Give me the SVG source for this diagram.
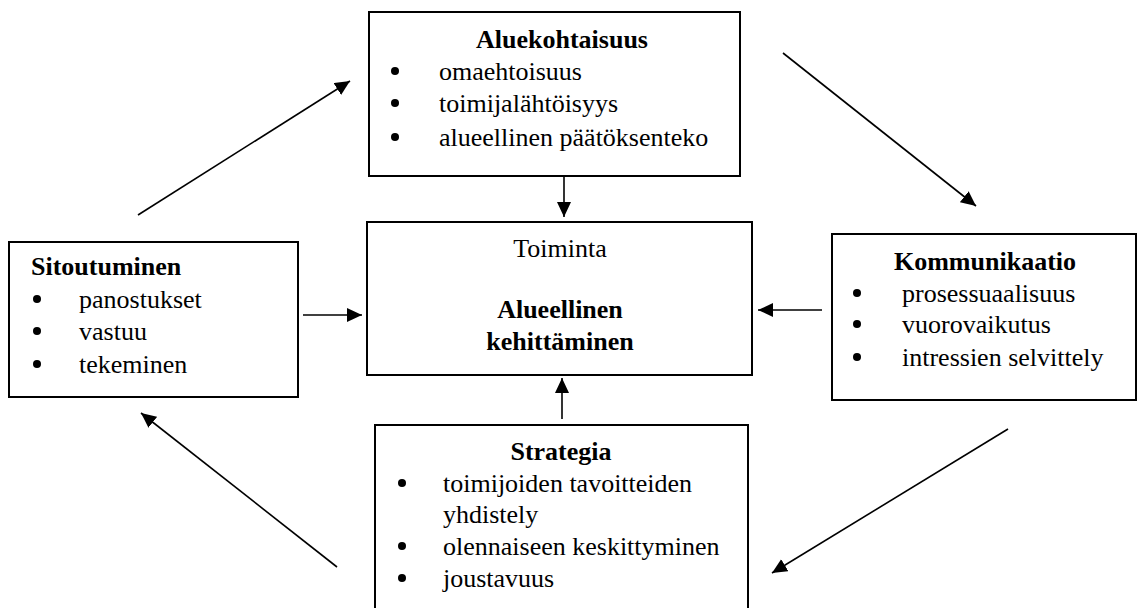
<svg xmlns="http://www.w3.org/2000/svg" width="1137" height="608" viewBox="0 0 1137 608">
<style>
.box{fill:#fff;stroke:#000;stroke-width:2}
.t{font-family:"Liberation Serif","Times New Roman",serif;font-size:26px;fill:#000}
.b{font-weight:bold}
.c{text-anchor:middle}
.conn line{stroke:#000;stroke-width:1.6;fill:none}
</style>
<defs>
<marker id="ah" markerUnits="userSpaceOnUse" markerWidth="16" markerHeight="15" refX="15" refY="7" orient="auto">
<path d="M0,0 L15,7 L0,14 z" fill="#000"/>
</marker>
</defs>
<rect width="1137" height="608" fill="#fff"/>
<g id="connectors" class="conn">
<line x1="564" y1="176" x2="564" y2="217" marker-end="url(#ah)"/>
<line x1="562" y1="419" x2="562" y2="378" marker-end="url(#ah)"/>
<line x1="303" y1="315" x2="362" y2="315" marker-end="url(#ah)"/>
<line x1="822" y1="310" x2="758" y2="310" marker-end="url(#ah)"/>
<line x1="138" y1="215" x2="350" y2="81" marker-end="url(#ah)"/>
<line x1="783" y1="53" x2="976" y2="206" marker-end="url(#ah)"/>
<line x1="1008" y1="429" x2="772" y2="573" marker-end="url(#ah)"/>
<line x1="337" y1="567" x2="141" y2="413" marker-end="url(#ah)"/>
</g>
<g id="aluekohtaisuus">
<rect class="box" x="369" y="12" width="371" height="164"/>
<text class="t b c" x="562" y="48">Aluekohtaisuus</text>
<circle cx="395" cy="71" r="4"/><text class="t" x="439" y="80">omaehtoisuus</text>
<circle cx="395" cy="103" r="4"/><text class="t" x="439" y="112">toimijalähtöisyys</text>
<circle cx="395" cy="137" r="4"/><text class="t" x="439" y="146">alueellinen päätöksenteko</text>
</g>
<g id="toiminta">
<rect class="box" x="367" y="222" width="385" height="153"/>
<text class="t c" x="560" y="257">Toiminta</text>
<text class="t b c" x="560" y="318">Alueellinen</text>
<text class="t b c" x="560" y="350">kehittäminen</text>
</g>
<g id="sitoutuminen">
<rect class="box" x="9" y="242" width="289" height="155"/>
<text class="t b" x="31" y="275">Sitoutuminen</text>
<circle cx="37" cy="299" r="4"/><text class="t" x="79" y="308">panostukset</text>
<circle cx="37" cy="331" r="4"/><text class="t" x="79" y="340">vastuu</text>
<circle cx="37" cy="364" r="4"/><text class="t" x="79" y="373">tekeminen</text>
</g>
<g id="kommunikaatio">
<rect class="box" x="832" y="234" width="304" height="166"/>
<text class="t b c" x="985" y="270">Kommunikaatio</text>
<circle cx="857" cy="293" r="4"/><text class="t" x="902" y="302">prosessuaalisuus</text>
<circle cx="857" cy="324" r="4"/><text class="t" x="902" y="333">vuorovaikutus</text>
<circle cx="857" cy="357" r="4"/><text class="t" x="902" y="366">intressien selvittely</text>
</g>
<g id="strategia">
<rect class="box" x="375" y="425" width="373" height="200"/>
<text class="t b c" x="561" y="460">Strategia</text>
<circle cx="402" cy="483" r="4"/><text class="t" x="443" y="492">toimijoiden tavoitteiden</text>
<text class="t" x="443" y="523">yhdistely</text>
<circle cx="402" cy="546" r="4"/><text class="t" x="443" y="555">olennaiseen keskittyminen</text>
<circle cx="402" cy="578" r="4"/><text class="t" x="443" y="587">joustavuus</text>
</g>
</svg>
